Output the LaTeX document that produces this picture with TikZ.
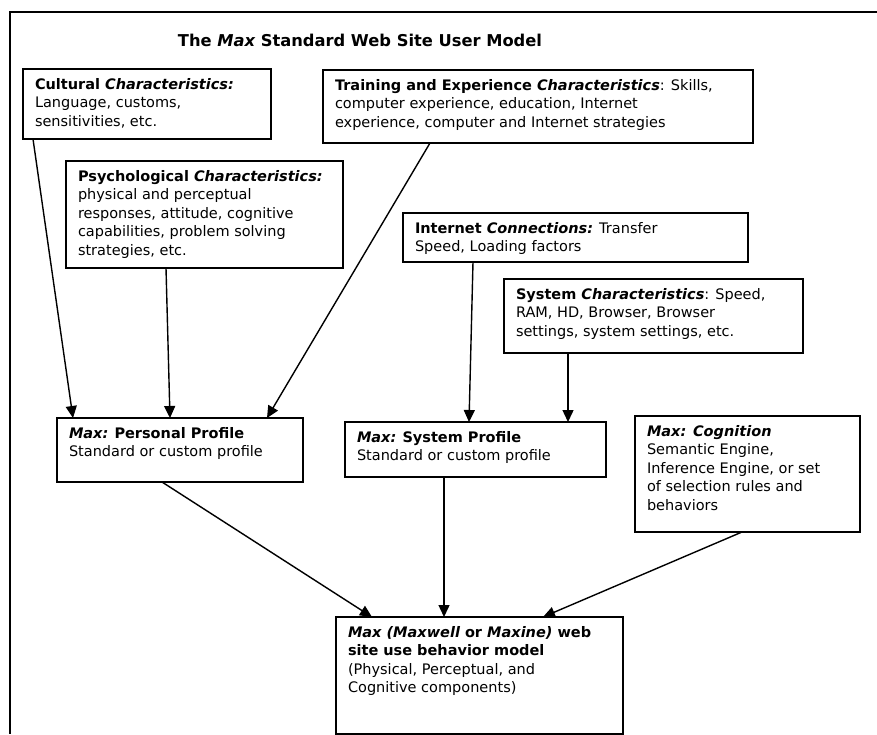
\documentclass[tikz,border=0pt]{standalone}
\usepackage{fontspec}
\setmainfont{DejaVu Sans}
\usetikzlibrary{arrows.meta}

% text block of a box: outer width #1, outer height #2 (in pt), contents #3
\newcommand{\boxcontent}[3]{%
  \parbox[c][\dimexpr#2pt-18pt\relax][t]{\dimexpr#1pt-24pt\relax}{%
    \raggedright\fontsize{14.5}{18.5}\selectfont #3}}

\tikzset{
  mbox/.style={draw, line width=1.6pt, inner xsep=12pt, inner ysep=9pt,
               outer sep=0pt, anchor=north west, fill=white},
  flow/.style={line width=1.4pt, -{Triangle[length=12pt,width=11pt]}},
  frame/.style={line width=1.3pt}
}

\begin{document}
\begin{tikzpicture}[x=1pt, y=-1pt]
  \useasboundingbox[fill=white] (0,0) rectangle (877,734);

  % outer frame (top and left edges)
  \coordinate (frameTR) at (877,12);
  \coordinate (frameTL) at (10,12);
  \coordinate (frameBL) at (10,734);
  \draw[frame] (frameTR) -- (frameTL) -- (frameBL);

  % title
  \node (title) at (360,40)
    {\fontsize{16.3}{19}\selectfont\bfseries The {\itshape Max} Standard Web Site User Model};

  % influence boxes
  \node[mbox] (cult) at (23,69) {\boxcontent{248}{70}{%
    {\bfseries Cultural \itshape Characteristics:}\\
    Language, customs,\\
    sensitivities, etc.}};

  \node[mbox] (train) at (323,70) {\boxcontent{430}{73}{%
    {\bfseries Training and Experience \itshape Characteristics}: Skills,\\
    computer experience, education, Internet\\
    experience, computer and Internet strategies}};

  \node[mbox] (psych) at (66,161) {\boxcontent{277}{107}{%
    {\bfseries Psychological \itshape Characteristics:}\\
    physical and perceptual\\
    responses, attitude, cognitive\\
    capabilities, problem solving\\
    strategies, etc.}};

  \node[mbox] (inet) at (403,213) {\boxcontent{345}{49}{%
    {\bfseries Internet \itshape Connections:} Transfer\\
    Speed, Loading factors}};

  \node[mbox] (sysc) at (504,279) {\boxcontent{299}{74}{%
    {\bfseries System \itshape Characteristics}: Speed,\\
    RAM, HD, Browser, Browser\\
    settings, system settings, etc.}};

  % profile boxes
  \node[mbox] (pers) at (57,418) {\boxcontent{246}{64}{%
    {\bfseries\itshape Max:} {\bfseries Personal Profile}\\
    Standard or custom profile}};

  \node[mbox] (sysp) at (345,422) {\boxcontent{261}{55}{%
    {\bfseries\itshape Max:} {\bfseries System Profile}\\
    Standard or custom profile}};

  \node[mbox] (cog) at (635,416) {\boxcontent{225}{116}{%
    {\bfseries\itshape Max: Cognition}\\
    Semantic Engine,\\
    Inference Engine, or set\\
    of selection rules and\\
    behaviors}};

  % behaviour model
  \node[mbox] (beh) at (336,617) {\boxcontent{287}{117}{%
    {\bfseries{\itshape Max (Maxwell} or {\itshape Maxine)} web\\
    site use behavior model}\\
    (Physical, Perceptual, and\\
    Cognitive components)}};

  % connectors
  \draw[flow] ([xshift=10pt]cult.south west)  -- ([xshift=16pt]pers.north west);
  \draw[flow] ([xshift=100pt]psych.south west) -- ([xshift=113pt]pers.north west);
  \draw[flow] ([xshift=107pt]train.south west) -- ([xshift=210pt]pers.north west);
  \draw[flow] ([xshift=70pt]inet.south west)  -- ([xshift=124pt]sysp.north west);
  \draw[flow] ([xshift=64pt]sysc.south west)  -- ([xshift=223pt]sysp.north west);
  \draw[flow] ([xshift=105pt]pers.south west) -- ([xshift=36pt]beh.north west);
  \draw[flow] ([xshift=99pt]sysp.south west)  -- ([xshift=108pt]beh.north west);
  \draw[flow] ([xshift=107pt]cog.south west)  -- ([xshift=207pt]beh.north west);
\end{tikzpicture}
\end{document}
